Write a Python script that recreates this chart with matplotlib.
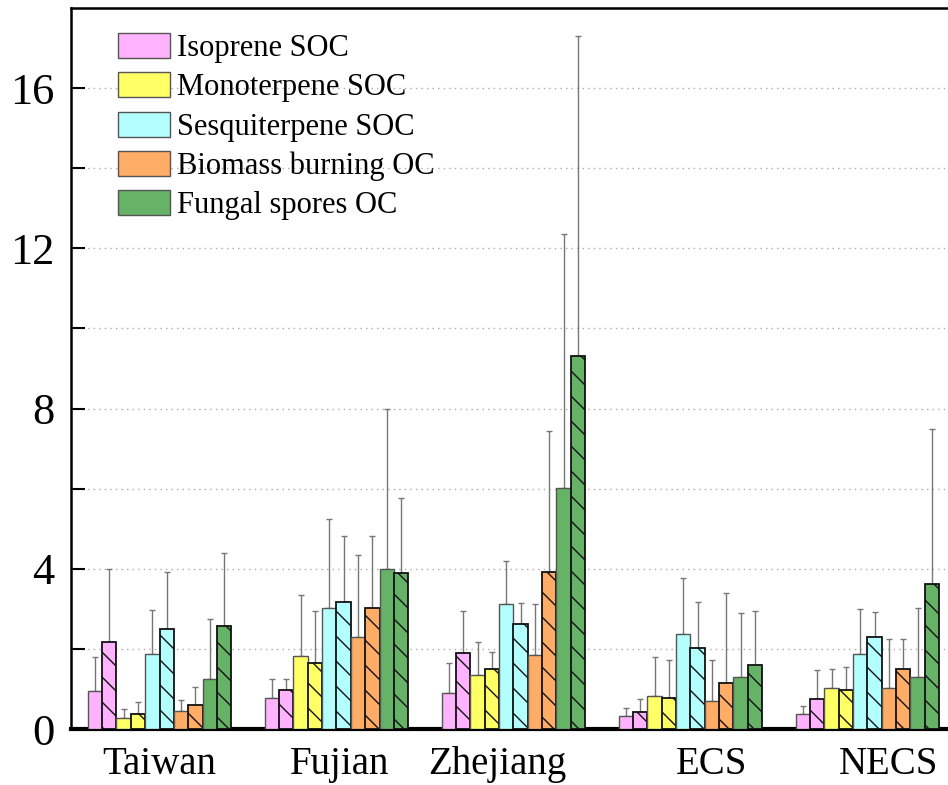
import numpy as np
import matplotlib.pyplot as plt

# draw at 75 dpi so the hatch spacing matches the original;
# S converts the point sizes chosen for 100 dpi
DPI = 75
S = 100 / DPI

plt.rcParams['font.family'] = ['Liberation Serif', 'DejaVu Serif']
plt.rcParams['hatch.linewidth'] = 1.0 * S

# Regions (x groups)
regions = ["Taiwan", "Fujian", "Zhejiang", "ECS", "NECS"]

# Source names for legend
sources = ["Isoprene SOC", "Monoterpene SOC", "Sesquiterpene SOC",
           "Biomass burning OC", "Fungal spores OC"]
colors = ["#ffb3ff", "#ffff66", "#b3ffff", "#ffad66", "#66b266"]

# Mean values per region: plain bar and hatched bar for each source
# order: iso, iso/, mono, mono/, sesq, sesq/, bb, bb/, fungal, fungal/
taiwan = [0.94, 2.18, 0.27, 0.37, 1.88, 2.49, 0.44, 0.61, 1.25, 2.56]
fujian = [0.77, 0.98, 1.83, 1.65, 3.03, 3.17, 2.29, 3.02, 4.00, 3.90]
zhejiang = [0.89, 1.90, 1.35, 1.49, 3.13, 2.61, 1.84, 3.92, 6.02, 9.31]
ecs = [0.32, 0.43, 0.82, 0.77, 2.37, 2.02, 0.71, 1.16, 1.30, 1.59]
necs = [0.38, 0.74, 1.03, 0.97, 1.88, 2.29, 1.03, 1.51, 1.31, 3.63]

# Standard deviations (upper error bars only)
taiwan_sd = [0.86, 1.82, 0.24, 0.31, 1.08, 1.42, 0.28, 0.44, 1.49, 1.84]
fujian_sd = [0.47, 0.26, 1.51, 1.30, 2.21, 1.64, 2.05, 1.79, 4.00, 1.88]
zhejiang_sd = [0.76, 1.05, 0.83, 0.44, 1.07, 0.53, 1.29, 3.51, 6.33, 7.98]
ecs_sd = [0.20, 0.32, 0.98, 0.96, 1.39, 1.16, 1.02, 2.23, 1.59, 1.35]
necs_sd = [0.19, 0.74, 0.47, 0.58, 1.11, 0.62, 1.22, 0.73, 1.72, 3.87]

means = np.array([taiwan, fujian, zhejiang, ecs, necs])
sds = np.array([taiwan_sd, fujian_sd, zhejiang_sd, ecs_sd, necs_sd])

fig = plt.figure(figsize=(948 / DPI, 785 / DPI), dpi=DPI)
ax = fig.add_axes([0.0749, 0.0713, 0.9335, 0.9185])

x = np.arange(len(regions))
w = 0.081
for j in range(10):
    pos = x + (j - 4.5) * w
    col = colors[j // 2]
    if j % 2 == 1:
        ax.bar(pos, means[:, j], w, color=col, edgecolor="#111111",
               linewidth=1.3 * S, hatch="\\", zorder=3)
    else:
        ax.bar(pos, means[:, j], w, color=col, edgecolor="#555555",
               linewidth=1.0 * S, zorder=3, label=sources[j // 2])
    ax.errorbar(pos, means[:, j], yerr=[np.zeros(len(regions)), sds[:, j]],
                fmt="none", ecolor="#777777", elinewidth=1.0 * S,
                capsize=2.5 * S, capthick=1.0 * S, zorder=2)

ax.set_xlim(-0.5, 4.5)
ax.set_ylim(0, 18)
ax.set_yticks([0, 4, 8, 12, 16])
ax.set_yticks([2, 6, 10, 14], minor=True)
ax.yaxis.grid(True, which="both", linestyle=(0, (1, 3)), color="#aaaaaa",
              linewidth=1.0 * S)
ax.set_axisbelow(True)

# nudge tick labels slightly like the original
ax.set_xticks(x + np.array([0.0, 0.02, -0.09, 0.12, 0.12]))
ax.set_xticklabels(regions, fontsize=28 * S)
ax.tick_params(axis="x", length=0, pad=12 * S)
ax.tick_params(axis="y", which="both", direction="in", length=10 * S,
               width=1.5 * S, labelsize=32 * S, pad=12 * S)

ax.spines["right"].set_visible(False)
ax.spines["left"].set_linewidth(1.8 * S)
ax.spines["top"].set_linewidth(1.8 * S)
ax.spines["bottom"].set_linewidth(3.0 * S)

ax.legend(loc="upper left", bbox_to_anchor=(0.053, 0.965), frameon=False,
          fontsize=22 * S, handlelength=1.7, handleheight=0.88,
          labelspacing=0.3, handletextpad=0.25, borderpad=0,
          borderaxespad=0)

fig.savefig("out.png", dpi=DPI)
